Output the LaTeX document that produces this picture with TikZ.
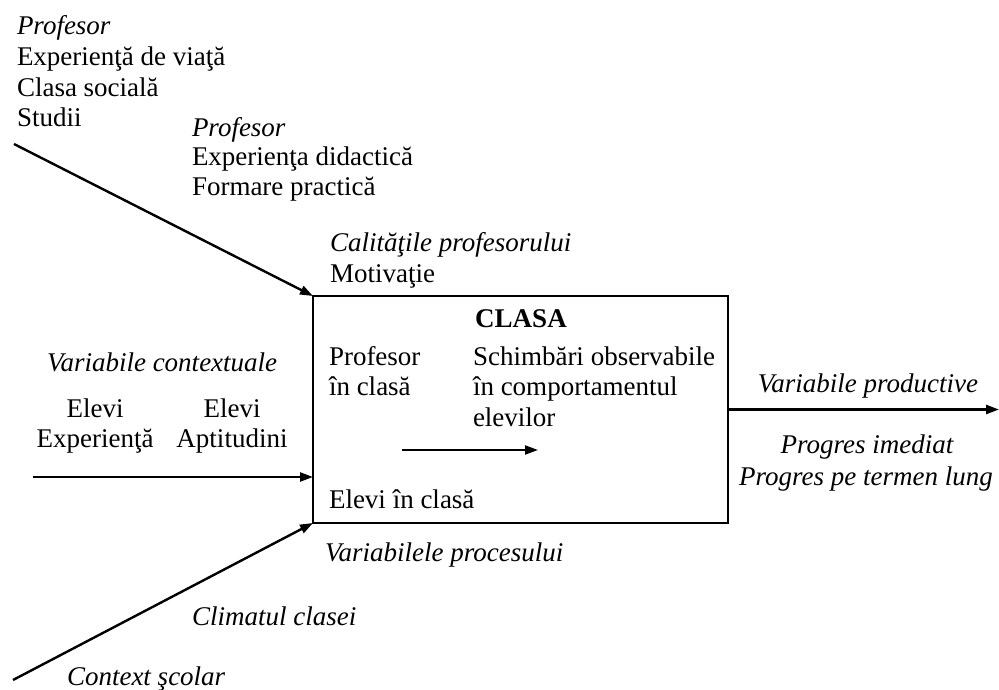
\documentclass[tikz,border=0pt]{standalone}
\usepackage{fontspec}
\setmainfont{Liberation Serif}
\usetikzlibrary{arrows.meta}
\begin{document}
\begin{tikzpicture}[x=1pt,y=-1pt,
  txt/.style={anchor=base west, inner sep=0pt, outer sep=0pt,
              font=\fontsize{27}{31}\selectfont},
  txtc/.style={txt, anchor=base},
  ital/.style={font=\fontsize{27}{31}\selectfont\itshape},
  bold/.style={font=\fontsize{27}{31}\selectfont\bfseries},
  frame/.style={draw, line width=2.6pt, rectangle, inner sep=0pt, outer sep=0pt,
                minimum width=415pt, minimum height=227pt},
  flow/.style={line width=2.4pt, -{Triangle[length=13pt,width=9pt]}},
  inner/.style={line width=2pt, -{Triangle[length=13pt,width=9pt]}}]
\useasboundingbox (0,0) rectangle (999,690);

% the central class box
\node[frame] (clasa) at (520.5,409.5) {};

% teacher background
\node[txt,ital] (p1) at (17,35) {Profesor};
\node[txt] (p1a) at (17,66) {Experienţă de viaţă};
\node[txt] (p1b) at (17,96.5) {Clasa socială};
\node[txt] (p1c) at (17,127) {Studii};

% teacher training
\node[txt,ital] (p2) at (192,137) {Profesor};
\node[txt] (p2a) at (192,166) {Experienţa didactică};
\node[txt] (p2b) at (192,196) {Formare practică};

% teacher qualities
\node[txt,ital] (cal) at (330,251) {Calităţile profesorului};
\node[txt] (mot) at (330,282) {Motivaţie};

% context variables
\node[txt,ital] (vc) at (47,371) {Variabile contextuale};
\node[txtc] (e1) at (95,417) {Elevi};
\node[txtc] (e1a) at (95,447) {Experienţă};
\node[txtc] (e2) at (232,417) {Elevi};
\node[txtc] (e2a) at (232,447) {Aptitudini};

% inside the class box
\node[txtc,bold] (cl) at (521,327) {CLASA};
\node[txt] (pc) at (329,365) {Profesor};
\node[txt] (pc2) at (329,395) {în clasă};
\node[txt] (sc) at (473,365) {Schimbări observabile};
\node[txt] (sc2) at (473,395) {în comportamentul};
\node[txt] (sc3) at (473,426) {elevilor};
\node[txt] (ec) at (329,508) {Elevi în clasă};

% product variables
\node[txtc,ital] (vp) at (868,392) {Variabile productive};
\node[txtc,ital] (pi) at (867,453) {Progres imediat};
\node[txtc,ital] (pl) at (866,485) {Progres pe termen lung};

% process variables and climate
\node[txt,ital] (vpr) at (325,561) {Variabilele procesului};
\node[txt,ital] (clim) at (192,625) {Climatul clasei};
\node[txt,ital] (ctx) at (67,685) {Context şcolar};

% arrow end points
\coordinate (a1) at (14,144);
\coordinate (a2) at (33,477);
\coordinate (a3) at (13,680);
\coordinate (a4) at (999,409.5);
\coordinate (i1) at (402,450);
\coordinate (i2) at (538,450);

% connectors
\draw[flow] (a1) -- (clasa.north west);
\draw[flow] (a2) -- (a2 -| clasa.west);
\draw[flow] (a3) -- (clasa.south west);
\draw[flow] (clasa.east) -- (a4);
\draw[inner] (i1) -- (i2);
\end{tikzpicture}
\end{document}
